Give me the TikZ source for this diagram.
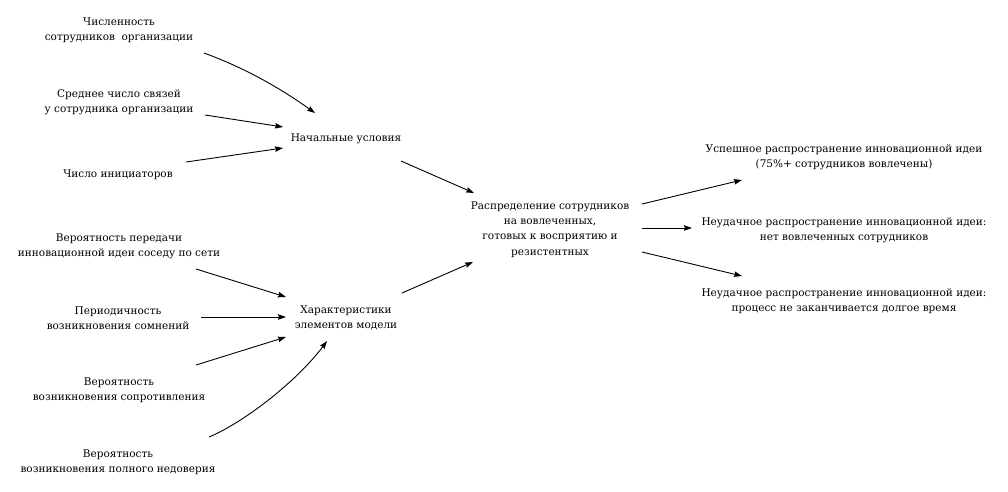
\documentclass[tikz,border=0pt]{standalone}
\usepackage{fontspec}
\setmainfont{DejaVu Serif}
\usetikzlibrary{arrows.meta,calc}
\begin{document}
\begin{tikzpicture}[x=1pt,y=-1pt,
  lbl/.style={align=center,inner sep=0pt,yshift=-2pt,font=\fontsize{10.5}{15.3}\selectfont},
  arr/.style={line width=0.9pt,-{Stealth[length=8pt,width=5.5pt,inset=1pt]}}]
\useasboundingbox (0,0) rectangle (1008,491);
\node[lbl] (A) at (119,28) {Численность\\сотрудников\ \ организации};
\node[lbl] (B) at (119,100.5) {Среднее число связей\\у сотрудника организации};
\node[lbl] (C) at (118,173) {Число инициаторов};
\node[lbl] (N) at (346,137) {Начальные условия};
\node[lbl] (D) at (119,244.5) {Вероятность передачи\\инновационной идеи соседу по сети};
\node[lbl] (E) at (118,316) {Периодичность\\возникновения сомнений};
\node[lbl] (F) at (119,388) {Вероятность\\возникновения сопротивления};
\node[lbl] (G) at (118,460) {Вероятность\\возникновения полного недоверия};
\node[lbl] (H) at (346,316) {Характеристики\\элементов модели};
\node[lbl] (R) at (550,227.5) {Распределение сотрудников\\на вовлеченных,\\готовых к восприятию и\\резистентных};
\node[lbl] (S1) at (844,155.5) {Успешное распространение инновационной идеи\\(75\%+ сотрудников вовлечены)};
\node[lbl] (S2) at (844,228) {Неудачное распространение инновационной идеи:\\нет вовлеченных сотрудников};
\node[lbl] (S3) at (844,299.5) {Неудачное распространение инновационной идеи:\\процесс не заканчивается долгое время};
% arrows
\draw[arr] ([shift={(85,23)}]A.center) .. controls (245,68) and (280,88) .. ([shift={(-31,-26)}]N.center);
\draw[arr] ([shift={(86,12.5)}]B.center) -- ([shift={(-63,-12)}]N.center);
\draw[arr] ([shift={(68,-13)}]C.center) -- ([shift={(-63,9)}]N.center);
\draw[arr] ([shift={(55,22)}]N.center) -- ([shift={(-76,-36.5)}]R.center);
\draw[arr] ([shift={(56,-25)}]H.center) -- ([shift={(-77,32.5)}]R.center);
\draw[arr] ([shift={(77,22.5)}]D.center) -- ([shift={(-60,-21)}]H.center);
\draw[arr] ([shift={(83,-1)}]E.center) -- ([shift={(-60,-1)}]H.center);
\draw[arr] ([shift={(77,-25)}]F.center) -- ([shift={(-60,19)}]H.center);
\draw[arr] ([shift={(91,-25)}]G.center) .. controls (245,422) and (298,380) .. ([shift={(-19,23)}]H.center);
\draw[arr] ([shift={(92,-25.5)}]R.center) -- ([shift={(-102,22.5)}]S1.center);
\draw[arr] ([shift={(92,-1.5)}]R.center) -- ([shift={(-152,-2)}]S2.center);
\draw[arr] ([shift={(92,22.5)}]R.center) -- ([shift={(-102,-25.5)}]S3.center);
\end{tikzpicture}
\end{document}
